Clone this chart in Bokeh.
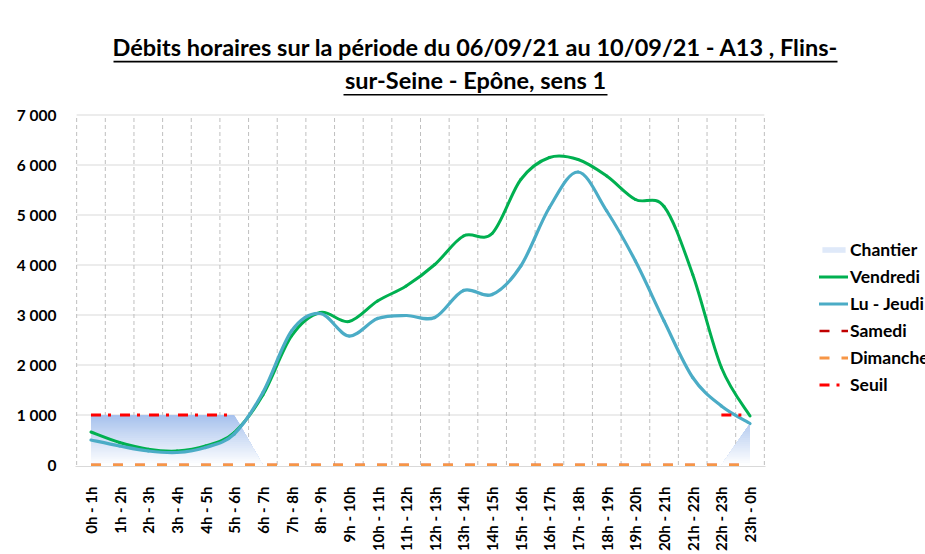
import numpy as np
from bokeh.plotting import figure
from bokeh.models import FixedTicker, Legend, LegendItem, Label, BoxAnnotation
from bokeh.embed import file_html
from bokeh.resources import INLINE

# ---------------- data ----------------
hours = ["0h - 1h", "1h - 2h", "2h - 3h", "3h - 4h", "4h - 5h", "5h - 6h",
         "6h - 7h", "7h - 8h", "8h - 9h", "9h - 10h", "10h - 11h", "11h - 12h",
         "12h - 13h", "13h - 14h", "14h - 15h", "15h - 16h", "16h - 17h", "17h - 18h",
         "18h - 19h", "19h - 20h", "20h - 21h", "21h - 22h", "22h - 23h", "23h - 0h"]
chantier = [1000, 1000, 1000, 1000, 1000, 1000, 0, 0, 0, 0, 0, 0,
            0, 0, 0, 0, 0, 0, 0, 0, 0, 0, 0, 830]
vendredi = [660, 450, 315, 280, 380, 650, 1400, 2580, 3050, 2870, 3280, 3580,
            4010, 4580, 4630, 5710, 6150, 6110, 5780, 5310, 5170, 3810, 1950, 980]
lu_jeudi = [500, 380, 280, 250, 350, 620, 1450, 2680, 3030, 2580, 2930, 2990,
            2950, 3490, 3410, 3980, 5150, 5860, 5080, 4080, 2880, 1750, 1180, 830]
samedi = [0] * 24
dimanche = [0] * 24
seuil = [1000, 1000, 1000, 1000, 1000, 1000] + [float("nan")] * 16 + [1000, 1000]
y_ticks = [0, 1000, 2000, 3000, 4000, 5000, 6000, 7000]
y_labels = ["0", "1 000", "2 000", "3 000", "4 000", "5 000", "6 000", "7 000"]
title_line1 = "Débits horaires sur la période du 06/09/21 au 10/09/21 - A13 , Flins-"
title_line2 = "sur-Seine - Epône, sens 1"

FONT = "Lato"
W, H = 925, 554
BL, BR, BT, BB = 75, 0, 0, 88            # borders (px); frame spans title & legend area
NCAT = len(hours)
PAD = 0.04
U = 690 / (NCAT + 2 * PAD)               # px per category
XR = (-PAD, -PAD + (W - BL - BR) / U)
YR = (-30, 9290)
xpos = np.arange(NCAT) + 0.5

p = figure(width=W, height=H, output_backend="svg", toolbar_location=None,
           x_range=XR, y_range=YR,
           min_border_left=BL, min_border_right=BR, min_border_top=BT, min_border_bottom=BB)
p.outline_line_color = None
p.background_fill_color = "white"
p.border_fill_color = "white"

FW, FH = W - BL - BR, H - BT - BB
def dx(px):
    return XR[0] + (px - BL) / FW * (XR[1] - XR[0])
def dy(py):
    return YR[0] + (H - BB - py) / FH * (YR[1] - YR[0])

# ---------------- title (underlined) ----------------
TX = 475
for txt, base in [(title_line1, 46.5), (title_line2, 79.5)]:
    p.add_layout(Label(x=dx(TX), y=dy(base), text=txt, text_align="center",
                       text_baseline="alphabetic", text_font=FONT, text_font_style="bold",
                       text_font_size="23.5px", text_color="#000000"))
for (l, r, t_, b_) in [(TX - 362, TX + 362, 60.2, 61.9), (TX - 132, TX + 132, 93.4, 95.1)]:
    p.add_layout(BoxAnnotation(left=dx(l), right=dx(r), top=dy(t_), bottom=dy(b_),
                               fill_color="black", fill_alpha=1, line_color=None, level="overlay"))

# ---------------- grids (drawn as segments limited to the plot area) ----------------
p.xgrid.visible = False
p.ygrid.visible = False
hy = y_ticks[1:]
p.segment(x0=[0] * len(hy), y0=hy, x1=[NCAT] * len(hy), y1=hy,
          line_color="#d9d9d9", line_width=1)
bounds = list(range(NCAT + 1))
p.segment(x0=bounds, y0=[y_ticks[0]] * len(bounds), x1=bounds, y1=[y_ticks[-1]] * len(bounds),
          line_color="#bfbfbf", line_width=1, line_dash="4 3")

# ---------------- axes ----------------
p.xaxis.bounds = (XR[0], NCAT + PAD)
p.xaxis.ticker = FixedTicker(ticks=list(xpos))
p.xaxis.major_label_overrides = {float(x): h for x, h in zip(xpos, hours)}
p.xaxis.major_label_orientation = np.pi / 2
p.xaxis.major_label_text_font = FONT
p.xaxis.major_label_text_font_style = "bold"
p.xaxis.major_label_text_font_size = "15px"
p.xaxis.major_label_text_color = "#000000"
p.xaxis.major_label_standoff = 14
p.xaxis.major_tick_line_color = None
p.xaxis.minor_tick_line_color = None
p.xaxis.axis_line_color = "#d9d9d9"

p.yaxis.ticker = FixedTicker(ticks=y_ticks)
p.yaxis.major_label_overrides = {t_: l_ for t_, l_ in zip(y_ticks, y_labels)}
p.yaxis.major_label_text_font = FONT
p.yaxis.major_label_text_font_style = "bold"
p.yaxis.major_label_text_font_size = "15.5px"
p.yaxis.major_label_text_color = "#000000"
p.yaxis.major_label_standoff = 13
p.yaxis.major_tick_line_color = None
p.yaxis.minor_tick_line_color = None
p.yaxis.axis_line_color = None

# ---------------- Chantier: gradient area (stacked layers, no seams) ----------------
cvals = np.array(chantier, dtype=float)
nb = 24
levels = np.linspace(0, cvals.max(), nb + 1)
xs = set(xpos.tolist())
for i in range(len(cvals) - 1):
    a, b = cvals[i], cvals[i + 1]
    if a != b:
        for L in levels:
            tt = (L - a) / (b - a)
            if 0 < tt < 1:
                xs.add(xpos[i] + tt)
xs = np.array(sorted(xs))
cy = np.interp(xs, xpos, cvals)
top_rgb = np.array([166, 193, 237])
white = np.array([255, 255, 255])
layers = {}
for k in range(nb, 0, -1):
    f = (k - 0.5) / nb
    rgb = np.round(white + (top_rgb - white) * f).astype(int)
    col = "#%02x%02x%02x" % tuple(rgb)
    layers[k] = p.varea(x=xs, y1=np.zeros_like(cy), y2=np.minimum(cy, levels[k]),
                        fill_color=col, fill_alpha=1)

# ---------------- smoothed lines (Bezier, Catmull-Rom style) ----------------
def smooth(vals):
    v = np.array(vals, dtype=float)
    x = xpos
    n = len(v)
    out = {k: [] for k in ("x0", "y0", "x1", "y1", "cx0", "cy0", "cx1", "cy1")}
    for i in range(n - 1):
        im = max(i - 1, 0)
        ip = min(i + 2, n - 1)
        out["x0"].append(x[i]); out["y0"].append(v[i])
        out["x1"].append(x[i + 1]); out["y1"].append(v[i + 1])
        out["cx0"].append(x[i] + (x[i + 1] - x[im]) / 6)
        out["cy0"].append(v[i] + (v[i + 1] - v[im]) / 6)
        out["cx1"].append(x[i + 1] - (x[ip] - x[i]) / 6)
        out["cy1"].append(v[i + 1] - (v[ip] - v[i]) / 6)
    return out

r_ven = p.bezier(**smooth(vendredi), line_color="#00b050", line_width=3, line_cap="round")
r_lu = p.bezier(**smooth(lu_jeudi), line_color="#4bacc6", line_width=3.2, line_cap="round")
r_sam = p.line(xpos, samedi, line_color="#c00000", line_width=2.6, line_dash="10 12")
r_dim = p.line(xpos, dimanche, line_color="#f79646", line_width=3, line_dash="10 12")
r_seu = p.line(xpos, seuil, line_color="#ff0000", line_width=2.8, line_dash="10 7 3 9")

legend = Legend(items=[
    LegendItem(label="Chantier", renderers=[layers[9]]),
    LegendItem(label="Vendredi", renderers=[r_ven]),
    LegendItem(label="Lu - Jeudi", renderers=[r_lu]),
    LegendItem(label="Samedi", renderers=[r_sam]),
    LegendItem(label="Dimanche", renderers=[r_dim]),
    LegendItem(label="Seuil", renderers=[r_seu]),
], location=(744, 71), padding=0, margin=0, spacing=6,
   glyph_width=29, glyph_height=7, label_height=20, label_standoff=2,
   label_text_font=FONT, label_text_font_style="bold", label_text_font_size="17.5px",
   label_text_color="#000000", border_line_color=None, background_fill_alpha=0)
p.add_layout(legend, "center")

open("out.html", "w").write(file_html(p, INLINE))
